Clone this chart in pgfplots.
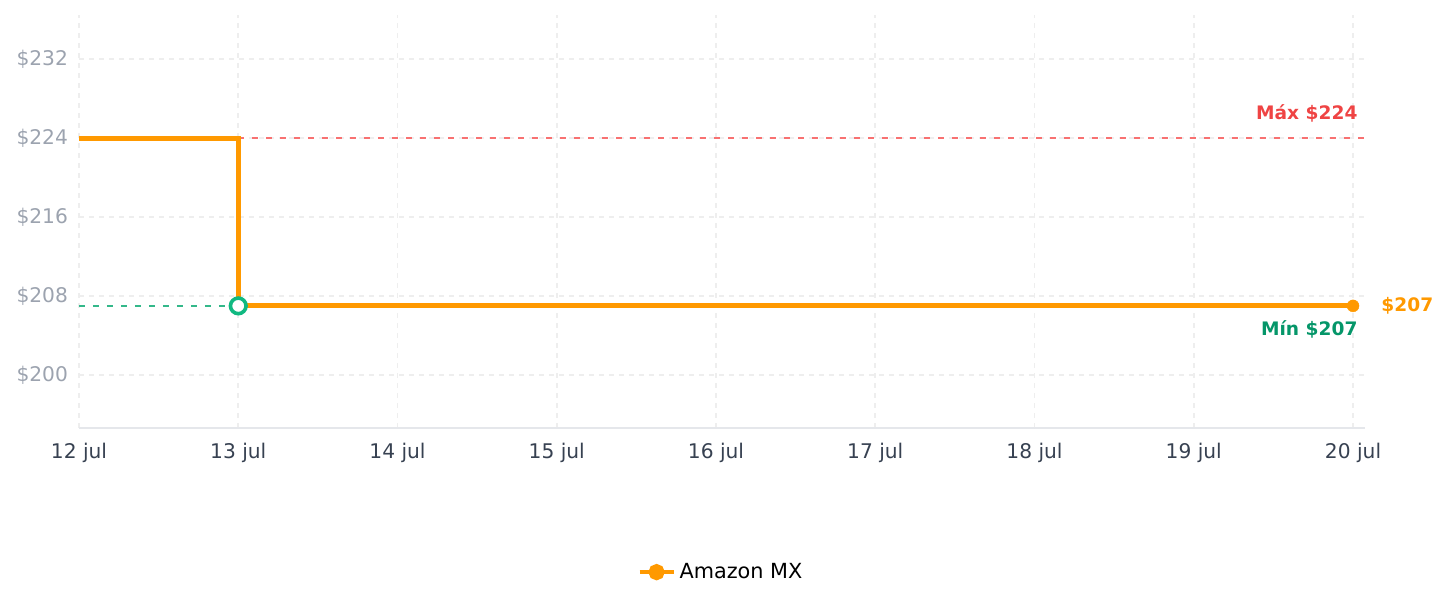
\documentclass[border=0pt]{standalone}
\usepackage{pgfplots}
\pgfplotsset{compat=1.18}
\usepackage{fontspec}
\setmainfont{DejaVu Sans}
\definecolor{amz}{HTML}{FF9900}
\definecolor{gridc}{HTML}{EEEEEE}
\definecolor{ytickc}{HTML}{9CA3AF}
\definecolor{xtickc}{HTML}{374151}
\definecolor{maxline}{HTML}{F87171}
\definecolor{maxtext}{HTML}{EF4444}
\definecolor{minline}{HTML}{34B88A}
\definecolor{minmark}{HTML}{10B981}
\definecolor{mintext}{HTML}{059669}
\definecolor{axisc}{HTML}{E5E7EB}
\begin{document}
\begin{tikzpicture}
\path[use as bounding box] (-39.5pt,-89.5pt) rectangle (684pt,214pt);
\begin{axis}[
  at={(0,0)}, anchor=south west,
  scale only axis, width=643pt, height=206.5pt,
  xmin=0, xmax=8.075, ymin=194.63, ymax=236.46,
  clip=false,
  axis x line*=bottom, axis y line*=left,
  y axis line style={draw=none},
  x axis line style={draw=axisc, line width=1pt, -},
  major tick length=0pt,
  xtick={0,1,2,3,4,5,6,7,8},
  xticklabels={12 jul,13 jul,14 jul,15 jul,16 jul,17 jul,18 jul,19 jul,20 jul},
  ytick={200,208,216,224,232},
  yticklabels={\$200,\$208,\$216,\$224,\$232},
  xticklabel style={font=\fontsize{10.1}{12}\selectfont, text=xtickc, yshift=-4pt},
  yticklabel style={font=\fontsize{10.1}{12}\selectfont, text=ytickc, xshift=-2pt},
  grid=major,
  major grid style={draw=gridc, line width=0.8pt, dash pattern=on 2.5pt off 2.5pt},
  legend style={at={(0.5,-0.349)}, anchor=center, draw=none, fill=none,
    font=\fontsize{10.4}{12}\selectfont, legend cell align=left},
  legend image code/.code={
    \draw[draw=amz, line width=2pt] (0pt,0pt) -- (17pt,0pt);
    \fill[amz] (8.5pt,0pt) circle (2.8pt);
  },
]
\addplot[draw=maxline, line width=0.8pt, dash pattern=on 3pt off 4pt, forget plot]
  coordinates {(1,224) (8.075,224)};
\addplot[draw=minline, line width=0.8pt, dash pattern=on 3pt off 4pt, forget plot]
  coordinates {(0,207) (1,207)};
\addplot[draw=gray!50, line width=0.8pt, dash pattern=on 3pt off 4pt, forget plot]
  coordinates {(8,207) (8.075,207)};
\addplot[const plot, draw=amz, line width=2.5pt, mark=none]
  coordinates {(0,224) (1,207) (2,207) (3,207) (4,207) (5,207) (6,207) (7,207) (8,207)};
\addlegendentry{Amazon MX}
\addplot[only marks, mark=*, mark size=3pt,
  mark options={fill=amz, draw=amz, line width=0.2pt}, forget plot]
  coordinates {(8,207)};
\addplot[only marks, mark=*, mark size=3.9pt,
  mark options={fill=white, draw=minmark, line width=1.8pt}, forget plot]
  coordinates {(1,207)};
\node[anchor=east, text=maxtext, font=\bfseries\fontsize{9.3}{11}\selectfont, inner sep=0pt]
  at (axis cs:8.03,226.5) {Máx \$224};
\node[anchor=east, text=mintext, font=\bfseries\fontsize{9.3}{11}\selectfont, inner sep=0pt]
  at (axis cs:8.03,204.6) {Mín \$207};
\node[anchor=west, text=amz, font=\bfseries\fontsize{9.3}{11}\selectfont, inner sep=0pt]
  at (axis cs:8.176,207) {\$207};
\end{axis}
\end{tikzpicture}
\end{document}
